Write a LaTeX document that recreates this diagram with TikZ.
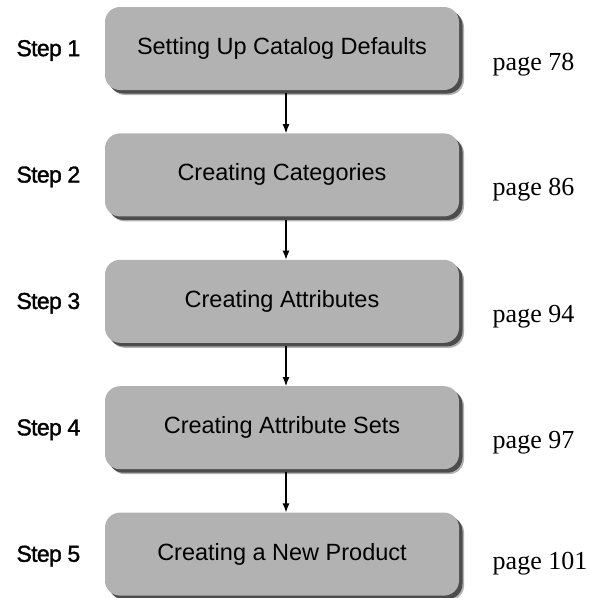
\documentclass[tikz,border=0pt]{standalone}
\usepackage{fontspec}
\setmainfont{Liberation Serif}
\setsansfont{Liberation Sans}
\newfontfamily\stepfont[LetterSpace=-3, FakeBold=1.5]{Liberation Sans}
\usetikzlibrary{arrows.meta, positioning, shadows}

\begin{document}
\begin{tikzpicture}[
    x=1pt, y=1pt,
    node distance=43pt,
    block/.style={rectangle, fill=gray!60, minimum width=354pt, minimum height=83pt, rounded corners=15pt, font=\sffamily\fontsize{23.5}{28}\selectfont,
        general shadow={shadow xshift=5pt, shadow yshift=-5pt, fill=black!30},
        general shadow={shadow xshift=3.5pt, shadow yshift=-3.5pt, fill=black!70}},
    steplabel/.style={font=\stepfont\fontsize{23}{27}\selectfont, yshift=-2pt},
    pagelabel/.style={font=\rmfamily\fontsize{26}{30}\selectfont},
    line/.style={draw, -{Latex[length=9pt, width=7pt]}, line width=1.1pt}
]
    \useasboundingbox (0,0) rectangle (589,-598);

    % Nodes
    \node (cat) [block] at (282,-48.5) {Setting Up Catalog Defaults};
    \node (categ) [block, below=of cat] {Creating Categories};
    \node (attr) [block, below=of categ] {Creating Attributes};
    \node (sets) [block, below=of attr] {Creating Attribute Sets};
    \node (prod) [block, below=of sets] {Creating a New Product};

    % Step labels
    \node (step1) [steplabel, left=21pt of cat] {Step 1};
    \node (step2) [steplabel, left=21pt of categ] {Step 2};
    \node (step3) [steplabel, left=21pt of attr] {Step 3};
    \node (step4) [steplabel, left=21pt of sets] {Step 4};
    \node (step5) [steplabel, left=21pt of prod] {Step 5};

    % Page references
    \node (page1) [pagelabel, right=30pt of cat, yshift=-16pt] {page 78};
    \node (page2) [pagelabel, right=30pt of categ, yshift=-15pt] {page 86};
    \node (page3) [pagelabel, right=30pt of attr, yshift=-15pt] {page 94};
    \node (page4) [pagelabel, right=30pt of sets, yshift=-15pt] {page 97};
    \node (page5) [pagelabel, right=30pt of prod, yshift=-10pt] {page 101};

    % Connections
    \draw [line] ([xshift=4pt, yshift=-3pt]cat.south) -- ([xshift=4pt]categ.north);
    \draw [line] ([xshift=4pt, yshift=-3pt]categ.south) -- ([xshift=4pt]attr.north);
    \draw [line] ([xshift=4pt, yshift=-3pt]attr.south) -- ([xshift=4pt]sets.north);
    \draw [line] ([xshift=4pt, yshift=-3pt]sets.south) -- ([xshift=4pt]prod.north);
\end{tikzpicture}
\end{document}
